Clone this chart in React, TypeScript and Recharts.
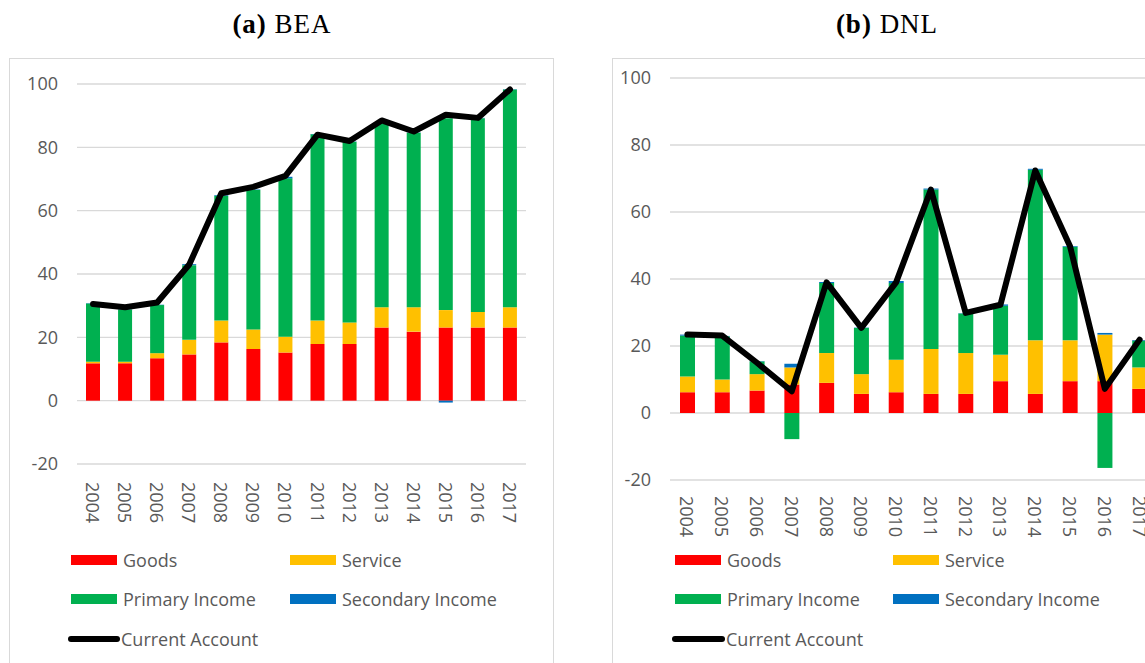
import { Bar, CartesianGrid, ComposedChart, Line, XAxis, YAxis } from "recharts";

const years = ["2004", "2005", "2006", "2007", "2008", "2009", "2010", "2011", "2012", "2013", "2014", "2015", "2016", "2017"];
const yTicks = [-20, 0, 20, 40, 60, 80, 100];

// (a) BEA
const beaGoods = [11.8, 11.8, 13.4, 14.6, 18.4, 16.3, 15.2, 17.9, 17.9, 23.1, 21.8, 23.1, 23.1, 23.1];
const beaService = [0.5, 0.5, 1.6, 4.6, 6.9, 6.2, 5.0, 7.4, 6.8, 6.4, 7.7, 5.5, 4.9, 6.4];
const beaPrimary = [18.4, 16.5, 15.2, 23.6, 39.4, 44.0, 50.0, 58.8, 57.1, 58.1, 55.1, 60.6, 61.2, 68.8];
const beaSecondary = [0.1, 0.1, 0.1, 0.3, 0.2, 0.2, 0.5, 0.1, 0.1, 0.1, 0.1, -0.6, 0.1, 0.1];
const beaCurrent = [30.5, 29.5, 31.0, 43.0, 65.5, 67.5, 71.0, 84.0, 82.0, 88.5, 85.0, 90.3, 89.3, 98.3];

// (b) DNL
const dnlGoods = [6.2, 6.2, 6.7, 8.5, 9.0, 5.7, 6.2, 5.7, 5.7, 9.5, 5.7, 9.5, 9.5, 7.2];
const dnlService = [4.7, 3.8, 4.9, 5.1, 8.9, 5.9, 9.7, 13.4, 12.2, 7.9, 16.0, 12.2, 13.9, 6.4];
const dnlPrimary = [12.2, 12.9, 3.8, -7.8, 20.9, 13.8, 22.9, 47.6, 11.8, 14.6, 50.9, 27.9, -16.4, 8.0];
const dnlSecondary = [0.3, 0.1, 0.1, 1.1, 0.3, 0.1, 0.6, 0.3, 0.1, 0.4, 0.3, 0.2, 0.5, 0.2];
const dnlCurrent = [23.4, 23.1, 15.0, 6.5, 39.0, 25.4, 39.0, 66.7, 29.9, 32.3, 72.4, 49.8, 7.2, 21.9];

const bars = [
  { key: "goods", name: "Goods", color: "#ff0000" },
  { key: "service", name: "Service", color: "#ffc000" },
  { key: "primary", name: "Primary Income", color: "#00b050" },
  { key: "secondary", name: "Secondary Income", color: "#0070c0" },
];

const TEXT = "#595959";
const FONT = "'Open Sans', sans-serif";

function buildRows(goods: number[], service: number[], primary: number[], secondary: number[], current: number[]) {
  return years.map((year, i) => ({
    year,
    goods: goods[i],
    service: service[i],
    primary: primary[i],
    secondary: secondary[i],
    current: current[i],
  }));
}

const beaData = buildRows(beaGoods, beaService, beaPrimary, beaSecondary, beaCurrent);
const dnlData = buildRows(dnlGoods, dnlService, dnlPrimary, dnlSecondary, dnlCurrent);

function YearTick({ x, y, payload }: any) {
  return (
    <text
      x={x}
      y={y}
      transform={`rotate(90, ${x}, ${y})`}
      textAnchor="start"
      dominantBaseline="central"
      fill={TEXT}
      fontSize={18}
      fontFamily={FONT}
    >
      {payload.value}
    </text>
  );
}

function LegendBlock({ col1, col2, lineX, textX }: { col1: number; col2: number; lineX: number; textX: number }) {
  const rows = [560, 599, 639];
  const item = (left: number, top: number, label: string, swatch: any) => (
    <div
      key={label}
      style={{
        position: "absolute",
        left,
        top: top - 13,
        height: 26,
        display: "flex",
        alignItems: "center",
        fontFamily: FONT,
        fontSize: 18,
        color: TEXT,
        whiteSpace: "nowrap",
      }}
    >
      {swatch}
      {label}
    </div>
  );
  const box = (color: string) => (
    <span style={{ display: "inline-block", width: 46, height: 10, background: color, marginRight: 6 }} />
  );
  return (
    <>
      {item(col1, rows[0], bars[0].name, box(bars[0].color))}
      {item(col2, rows[0], bars[1].name, box(bars[1].color))}
      {item(col1, rows[1], bars[2].name, box(bars[2].color))}
      {item(col2, rows[1], bars[3].name, box(bars[3].color))}
      {item(
        lineX,
        rows[2],
        "Current Account",
        <span
          style={{
            display: "inline-block",
            width: textX - lineX - 1,
            height: 6,
            borderRadius: 3,
            background: "#000",
            marginRight: 1,
          }}
        />
      )}
    </>
  );
}

function Panel({
  data,
  left,
  width,
  margin,
  barSize,
  tickGap,
}: {
  data: any[];
  left: number;
  width: number;
  margin: { top: number; right: number; bottom: number; left: number };
  barSize: number;
  tickGap: number;
}) {
  return (
    <div style={{ position: "absolute", left, top: 0 }}>
      <ComposedChart width={width} height={663} data={data} margin={margin} stackOffset="sign">
        <CartesianGrid vertical={false} stroke="#d9d9d9" strokeWidth={1.3} />
        <XAxis
          dataKey="year"
          axisLine={false}
          tickLine={false}
          tickSize={0}
          tickMargin={tickGap}
          height={60}
          interval={0}
          tick={<YearTick />}
        />
        <YAxis
          domain={[-20, 100]}
          ticks={yTicks}
          axisLine={false}
          tickLine={false}
          tickSize={0}
          tickMargin={19}
          width={60}
          tick={{ fontSize: 18, fill: TEXT, fontFamily: FONT }}
        />
        {bars.map((b) => (
          <Bar
            key={b.key}
            dataKey={b.key}
            name={b.name}
            stackId="ca"
            fill={b.color}
            barSize={barSize}
            isAnimationActive={false}
          />
        ))}
        <Line
          type="linear"
          dataKey="current"
          name="Current Account"
          stroke="#000"
          strokeWidth={6}
          strokeLinejoin="round"
          strokeLinecap="round"
          dot={false}
          isAnimationActive={false}
        />
      </ComposedChart>
    </div>
  );
}

const titleStyle = {
  position: "absolute" as const,
  top: 9,
  width: 300,
  textAlign: "center" as const,
  fontFamily: "'Liberation Serif', serif",
  fontSize: 27,
  letterSpacing: 1,
  color: "#000",
};

export default function App() {
  return (
    <div
      style={{
        position: "fixed",
        left: 0,
        top: 0,
        width: 1145,
        height: 663,
        overflow: "hidden",
        background: "#fff",
      }}
    >
      <div style={{ ...titleStyle, left: 282 - 150 }}>
        <b>(a)</b> BEA
      </div>
      <div style={{ ...titleStyle, left: 887 - 150 }}>
        <b>(b)</b> DNL
      </div>
      <div style={{ position: "absolute", left: 9, top: 58, width: 543, height: 640, border: "1px solid #d9d9d9" }} />
      <div style={{ position: "absolute", left: 612, top: 58, width: 600, height: 640, border: "1px solid #d9d9d9" }} />

      <Panel
        data={beaData}
        left={0}
        width={560}
        margin={{ top: 84, right: 34, bottom: 139, left: 17 }}
        barSize={14}
        tickGap={18}
      />
      <Panel
        data={dnlData}
        left={590}
        width={577}
        margin={{ top: 78, right: 10, bottom: 123, left: 20 }}
        barSize={15}
        tickGap={16}
      />

      <LegendBlock col1={71} col2={290} lineX={68} textX={121} />
      <LegendBlock col1={675} col2={893} lineX={672} textX={726} />
    </div>
  );
}
